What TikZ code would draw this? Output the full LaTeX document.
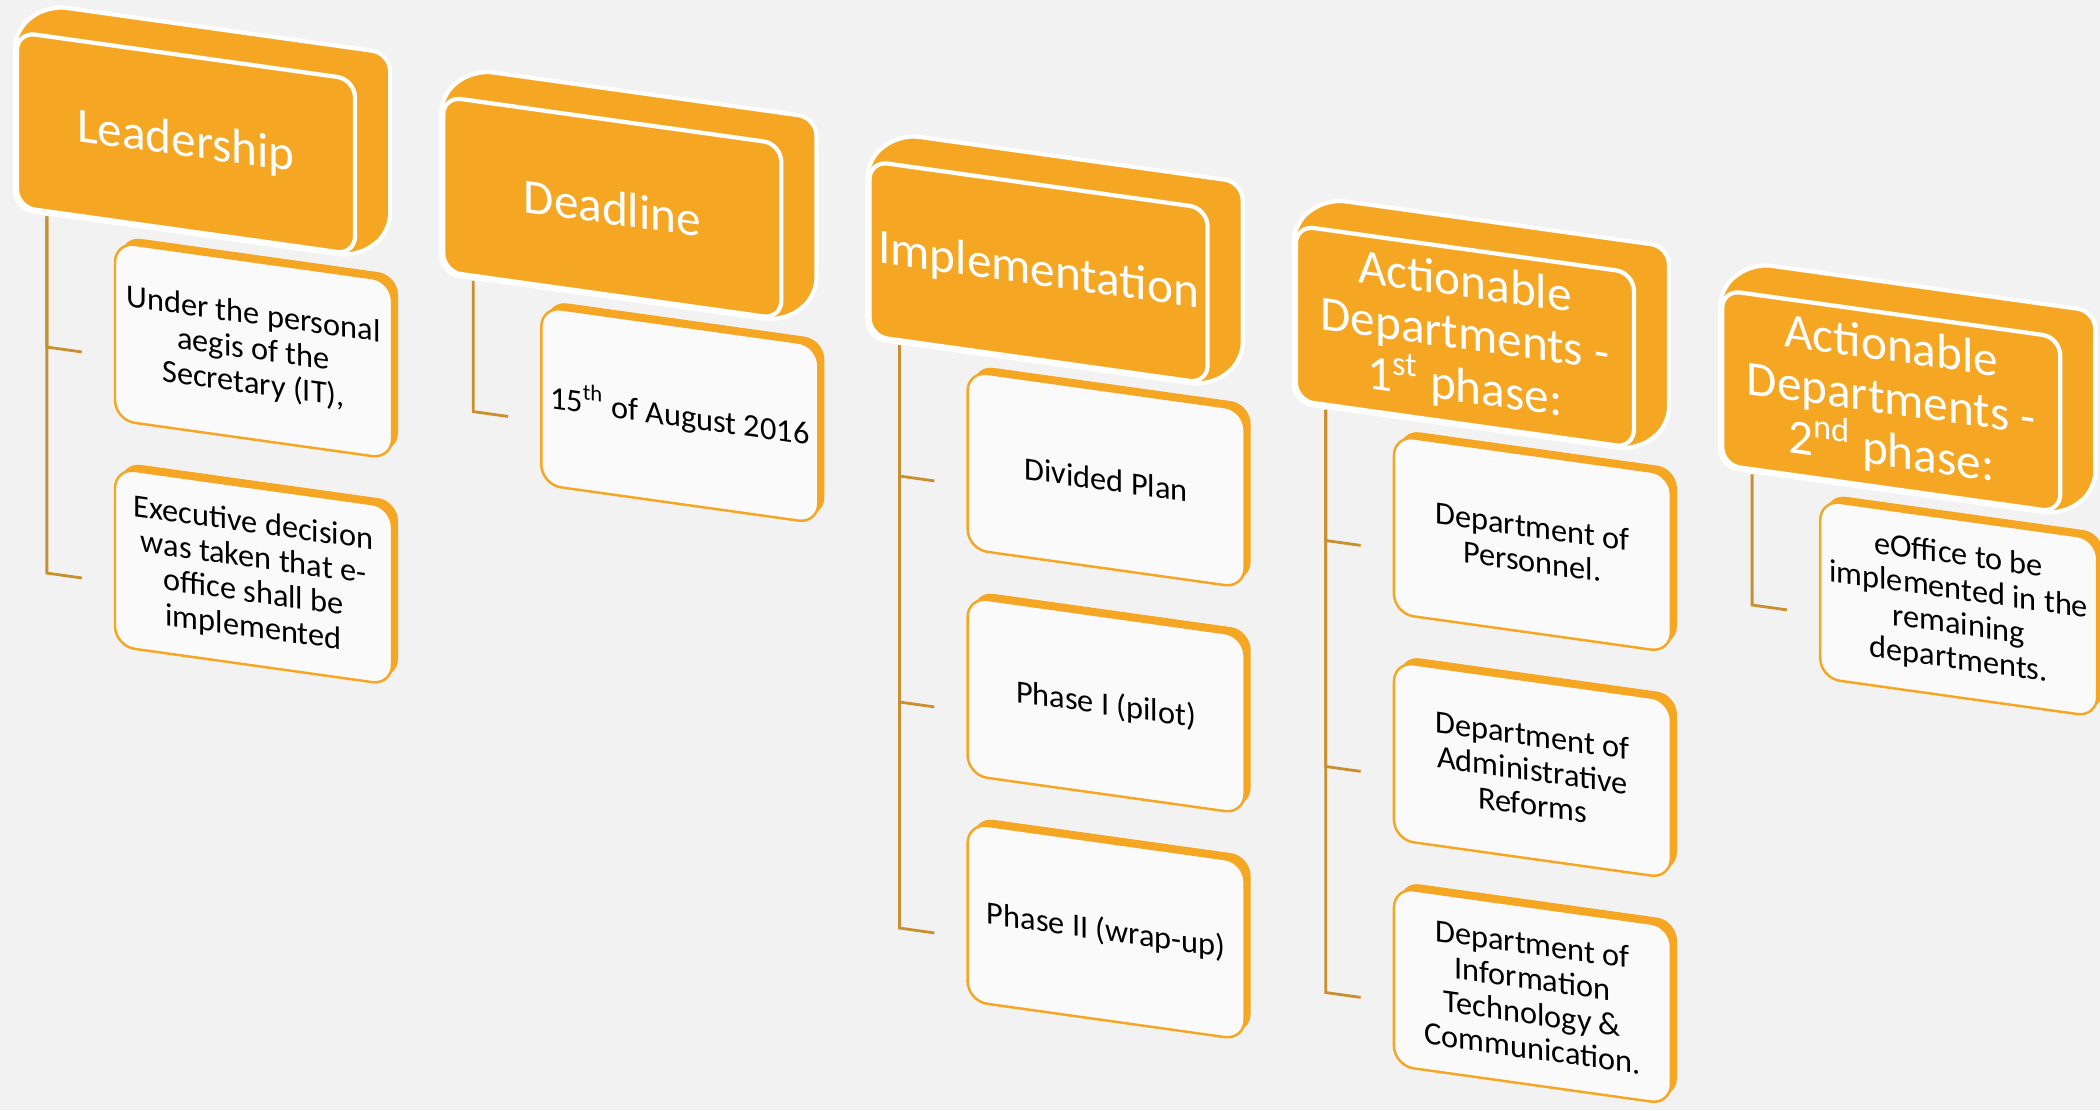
\documentclass[tikz,border=0pt]{standalone}
\usepackage{fontspec}
\setmainfont{Carlito}
\usepackage{xcolor}
\usepackage{tikz}
\usetikzlibrary{shapes,backgrounds}
\usetikzlibrary{positioning,calc,shadows}

\definecolor{orgC}{HTML}{F5A623}
\definecolor{lineC}{HTML}{C9902F}
\definecolor{bgC}{HTML}{F2F2F2}
\definecolor{cardC}{HTML}{FAFAFA}

\begin{document}
\begin{tikzpicture}[node distance=2.26cm, semithick]

\tikzstyle{head}=[rectangle, rounded corners=0.18cm, minimum width=3.38cm, minimum height=1.75cm,
inner sep=1pt, align=center, fill=orgC, draw=white, line width=1.2pt, text=white,
font=\fontsize{14}{15}\selectfont, transform shape]

\tikzstyle{card}=[rectangle, rounded corners=0.2cm, minimum width=2.77cm, minimum height=1.78cm,
inner sep=1pt, align=center, fill=cardC, draw=orgC, line width=0.7pt, text=black,
font=\fontsize{9.2}{9.9}\selectfont, transform shape,
general shadow={fill=orgC, shadow xshift=0.06cm, shadow yshift=0.06cm}]

\tikzstyle{depth}=[fill=orgC, draw=white, line width=1.2pt, rounded corners=0.18cm, line join=round]

\tikzstyle{link}=[draw=lineC, line width=0.8pt]

\useasboundingbox (0,0) rectangle (21,-11.1);
\begin{scope}[on background layer]
\fill[bgC] (0,0) rectangle (21,-11.1);
\end{scope}

\begin{scope}[yslant=-0.14]

%headers
\node[head] (h1) at (1.86,-1.172) {Leadership};

\node[head] (h2) [node distance=4.263cm, right of=h1, yshift=-0.048cm] {Deadline};

\node[head] (h3) [node distance=4.263cm, right of=h2, yshift=-0.048cm] {Implementation};

\node[head] (h4) [node distance=4.263cm, right of=h3, yshift=-0.048cm]
{Actionable\\Departments -\\1\textsuperscript{st} phase:};

\node[head] (h5) [node distance=4.263cm, right of=h4, yshift=-0.048cm]
{Actionable\\Departments -\\2\textsuperscript{nd} phase:};

%depth of the headers
\begin{scope}[on background layer]
\foreach \h in {h1,h2,h3,h4,h5}
  \draw[depth] (\h.south west) -- (\h.north west) -- ($(\h.north west)+(0.33,0.29)$)
  -- ($(\h.north east)+(0.33,0.29)$) -- ($(\h.south east)+(0.33,0.29)$)
  -- (\h.south east) -- cycle;
\end{scope}

%children
\node[card] (c11) [node distance=1.978cm, below of=h1, xshift=0.675cm]
{Under the personal\\aegis of the\\Secretary (IT),};
\node[card] (c12) [below of=c11]
{Executive decision\\was taken that e-\\office shall be\\implemented};

\node[card] (c21) [node distance=1.978cm, below of=h2, xshift=0.675cm]
{15\textsuperscript{th} of August 2016};

\node[card] (c31) [node distance=1.978cm, below of=h3, xshift=0.675cm] {Divided Plan};
\node[card] (c32) [below of=c31] {Phase I (pilot)};
\node[card] (c33) [below of=c32] {Phase II (wrap-up)};

\node[card] (c41) [node distance=1.978cm, below of=h4, xshift=0.675cm]
{Department of\\Personnel.};
\node[card] (c42) [below of=c41]
{Department of\\Administrative\\Reforms};
\node[card] (c43) [below of=c42]
{Department of\\Information\\Technology \&\\Communication.};

\node[card] (c51) [node distance=1.978cm, below of=h5, xshift=0.675cm]
{eOffice to be\\implemented in the\\remaining\\departments.};

%links
\draw[link] ($(h1.south west)+(0.32,-0.03)$) |- ($(c11.west)+(-0.32,-0.255)$);
\draw[link] ($(h1.south west)+(0.32,-0.03)$) |- ($(c12.west)+(-0.32,-0.255)$);
\draw[link] ($(h2.south west)+(0.32,-0.03)$) |- ($(c21.west)+(-0.32,-0.255)$);
\draw[link] ($(h3.south west)+(0.32,-0.03)$) |- ($(c31.west)+(-0.32,-0.255)$);
\draw[link] ($(h3.south west)+(0.32,-0.03)$) |- ($(c32.west)+(-0.32,-0.255)$);
\draw[link] ($(h3.south west)+(0.32,-0.03)$) |- ($(c33.west)+(-0.32,-0.255)$);
\draw[link] ($(h4.south west)+(0.32,-0.03)$) |- ($(c41.west)+(-0.32,-0.255)$);
\draw[link] ($(h4.south west)+(0.32,-0.03)$) |- ($(c42.west)+(-0.32,-0.255)$);
\draw[link] ($(h4.south west)+(0.32,-0.03)$) |- ($(c43.west)+(-0.32,-0.255)$);
\draw[link] ($(h5.south west)+(0.32,-0.03)$) |- ($(c51.west)+(-0.32,-0.255)$);

\end{scope}

\end{tikzpicture}
\end{document}
